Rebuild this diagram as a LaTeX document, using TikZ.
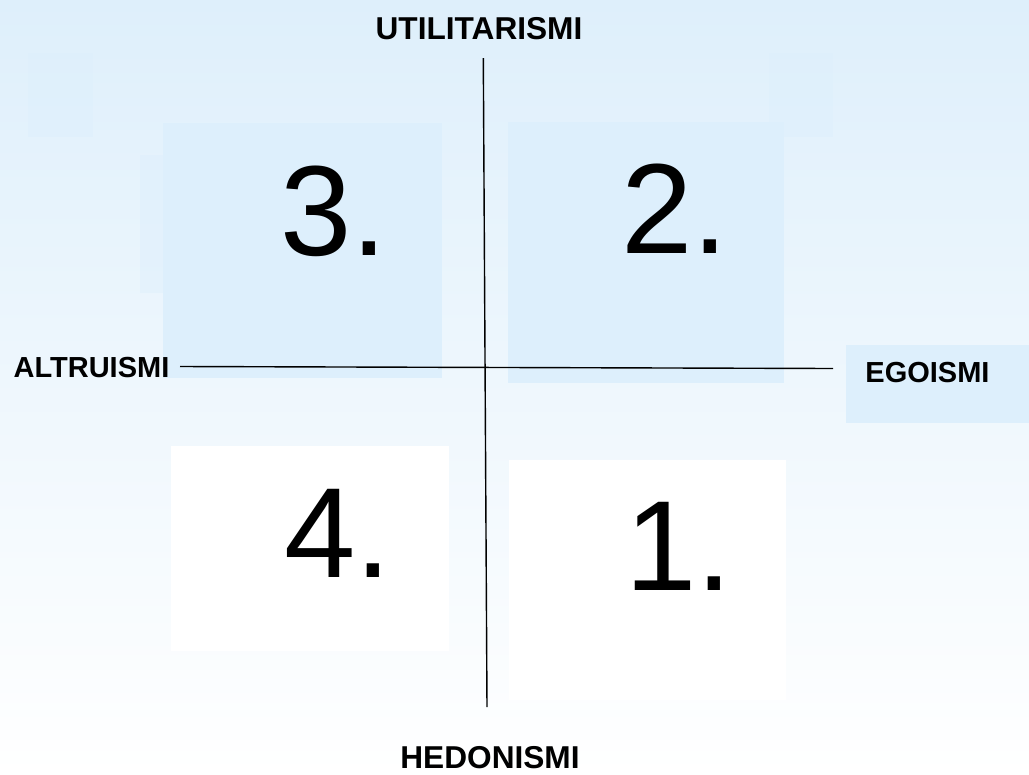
\documentclass[tikz,border=0pt]{standalone}
\usepackage{fontspec}
\setmainfont{Liberation Sans}
\usetikzlibrary{positioning}
\definecolor{skyfill}{RGB}{221,239,252}
\definecolor{skytop}{RGB}{222,239,251}

\begin{document}
\begin{tikzpicture}[x=0.02cm, y=-0.02cm,
  quad/.style={fill=skyfill},
  faint/.style={fill=skyfill, fill opacity=0.45},
  blank/.style={fill=white},
  num/.style={inner sep=0pt, font=\fontsize{73}{80}\selectfont},
  axislabel/.style={inner sep=0pt, font=\bfseries\fontsize{16.5}{18}\selectfont},
  axis/.style={line width=0.8pt}
]
% background
\shade[top color=skytop, bottom color=white] (0,0) rectangle (1029,775);
\useasboundingbox (0,0) rectangle (1029,775);

% faint panels
\fill[faint] (28,53) rectangle (93,137);
\fill[faint] (769,53) rectangle (833,137);
\fill[faint] (140,155) rectangle (163,293);

% quadrant panels
\fill[quad] (163,123) rectangle (442,378);
\fill[quad] (508,122) rectangle (784,383);
\fill[blank] (171,446) rectangle (449,651);
\fill[blank] (509,460) rectangle (786,700);
\fill[quad] (846,345) rectangle (1029,423);

% numbers
\node[num] (n3) at (334,211) {3.};
\node[num] (n2) at (675,209) {2.};
\node[num] (n4) at (338,533) {4.};
\node[num] (n1) at (679,546) {1.};

% axis labels
\node[axislabel, font=\bfseries\fontsize{18}{20}\selectfont] (util) at (479,28.5) {UTILITARISMI};
\node[axislabel, font=\bfseries\fontsize{18}{20}\selectfont] (hedo) at (490,758) {HEDONISMI};
\node[axislabel] (altr) at (91.5,367.5) {ALTRUISMI};
\node[axislabel] (ego) at (927.5,372.5) {EGOISMI};

% axes
\coordinate (vtop) at (483.3,58);
\coordinate (vbot) at (487,707);
\coordinate (hleft) at (180,366.5);
\coordinate (hright) at (833,368.5);
\draw[axis] (vtop) -- (vbot);
\draw[axis] (hleft) -- (hright);
\end{tikzpicture}
\end{document}
